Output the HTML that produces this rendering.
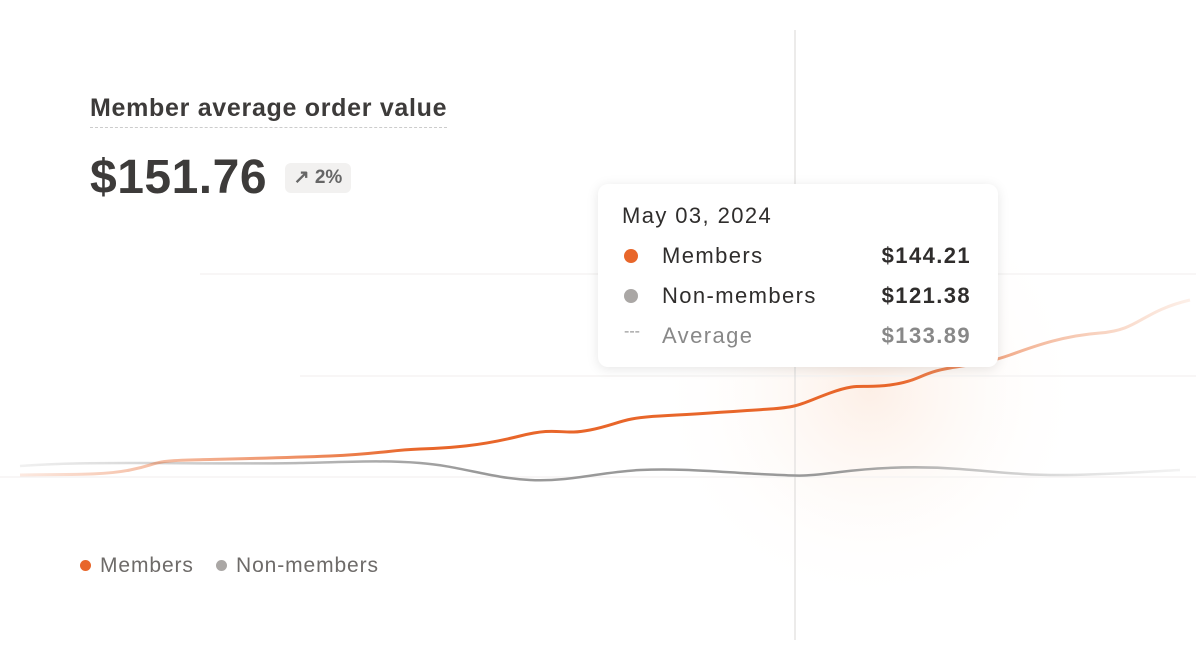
<!DOCTYPE html>
<html><head><meta charset="utf-8"><style>
body{margin:0;width:1196px;height:666px;background:#fff;overflow:hidden;font-family:"Liberation Sans",sans-serif;position:relative}
.t{position:absolute;left:90px;top:94px;font-size:25px;font-weight:bold;color:#3d3b3a;border-bottom:1.5px dashed #ccc;padding-bottom:4px;letter-spacing:0.7px;white-space:nowrap}
.v{position:absolute;left:90px;top:150px;font-size:48px;font-weight:bold;color:#3d3b3a;letter-spacing:0.5px}
.b{position:absolute;left:285px;top:163px;width:66px;height:30px;background:#f2f1f0;border-radius:6px;font-size:19px;color:#666;line-height:30px;text-align:center;font-weight:bold}
.tip{position:absolute;left:598px;top:184px;width:400px;height:183px;background:#fff;border-radius:10px;box-shadow:0 2px 12px rgba(0,0,0,0.1);font-size:22px;color:#2f2d2c;letter-spacing:1.4px}
.tip div{position:absolute;white-space:nowrap}
.lg{position:absolute;top:554px;font-size:21px;color:#6e6b69;letter-spacing:0.9px}
.dot{display:inline-block;width:11px;height:11px;border-radius:50%;margin-right:9px;vertical-align:1px}
</style></head><body>
<svg width="1196" height="666" style="position:absolute;left:0;top:0">
<defs>
<radialGradient id="g" cx="870" cy="390" r="220" gradientUnits="userSpaceOnUse"><stop offset="0" stop-color="#fcebe0" stop-opacity="0.8"/><stop offset="1" stop-color="#fff" stop-opacity="0"/></radialGradient>
<linearGradient id="fo" x1="0" x2="1196" gradientUnits="userSpaceOnUse"><stop offset="0" stop-color="#e8662a" stop-opacity="0.1"/><stop offset="0.2" stop-color="#e8662a" stop-opacity="0.6"/><stop offset="0.35" stop-color="#e8662a"/><stop offset="0.75" stop-color="#e8662a"/><stop offset="0.85" stop-color="#f0a07a" stop-opacity="0.8"/><stop offset="1" stop-color="#f4b898" stop-opacity="0.2"/></linearGradient>
<linearGradient id="fg" x1="0" x2="1196" gradientUnits="userSpaceOnUse"><stop offset="0" stop-color="#999" stop-opacity="0.1"/><stop offset="0.25" stop-color="#999" stop-opacity="0.7"/><stop offset="0.4" stop-color="#999"/><stop offset="0.7" stop-color="#999"/><stop offset="1" stop-color="#ccc" stop-opacity="0.2"/></linearGradient>
</defs>
<rect width="1196" height="666" fill="url(#g)"/>
<g stroke="#f5f4f3" stroke-width="1.5"><line x1="200" y1="274" x2="1196" y2="274"/><line x1="300" y1="376" x2="1196" y2="376"/><line x1="0" y1="477" x2="1196" y2="477"/></g>
<line x1="795" y1="30" x2="795" y2="640" stroke="#e2e0df" stroke-width="1.3"/>
<path d="M20,466 C60,463 100,463 140,463 S250,464 300,463 S380,460 420,463 S490,478 530,480 S600,472 640,470 S720,472 760,474 S800,477 840,472 S920,466 960,469 S1020,475 1060,475 S1140,472 1180,470" fill="none" stroke="url(#fg)" stroke-width="2.5"/>
<path d="M20,475 C60,474 100,476 130,470 S150,461 190,460 S280,458 330,456 S390,450 420,449 S480,446 520,436 S560,436 590,430 S620,418 660,416 S740,411 770,409 S800,404 830,393 S860,389 890,385 S920,373 950,368 S990,362 1010,355 S1060,336 1100,333 S1140,312 1190,300" fill="none" stroke="url(#fo)" stroke-width="3"/>
</svg>
<div class="t">Member average order value</div>
<div class="v">$151.76</div>
<div class="b">↗ 2%</div>
<div class="tip">
<div style="left:24px;top:19px">May 03, 2024</div>
<div style="left:26px;top:65px;width:14px;height:14px;border-radius:50%;background:#e8662a"></div>
<div style="left:64px;top:59px">Members</div><div style="right:27px;top:59px;font-weight:bold">$144.21</div>
<div style="left:26px;top:105px;width:14px;height:14px;border-radius:50%;background:#aaa7a5"></div>
<div style="left:64px;top:99px">Non-members</div><div style="right:27px;top:99px;font-weight:bold">$121.38</div>
<div style="left:26px;top:139px;color:#999;font-size:16px;letter-spacing:0">---</div>
<div style="left:64px;top:139px;color:#888">Average</div><div style="right:27px;top:139px;color:#888;font-weight:bold">$133.89</div>
</div>
<div class="lg" style="left:80px"><span class="dot" style="background:#e8662a"></span>Members</div>
<div class="lg" style="left:216px"><span class="dot" style="background:#aaa7a5"></span>Non-members</div>
</body></html>
